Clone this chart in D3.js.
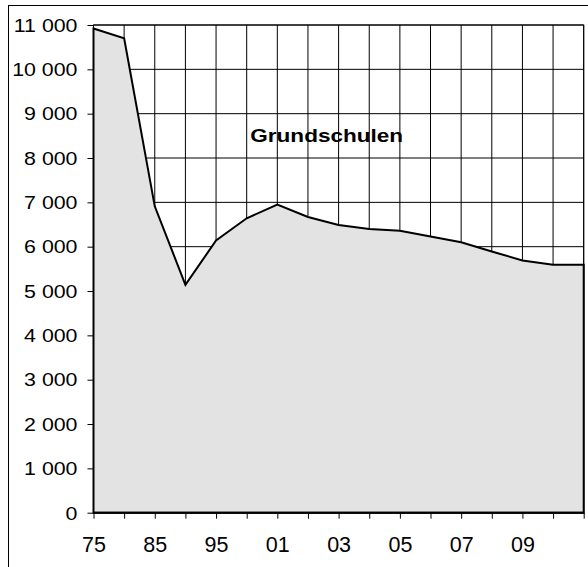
<!DOCTYPE html>
<html><head><meta charset="utf-8">
<script src="https://cdn.jsdelivr.net/npm/d3@7"></script>
<style>html,body{margin:0;padding:0;background:#fff;}svg{display:block;}</style>
</head><body>
<script>
const categories = ["75","80","85","90","95","00","01","02","03","04","05","06","07","08","09","10","11"];
const values = [10920, 10700, 6910, 5140, 6140, 6640, 6950, 6670, 6490, 6400, 6360, 6230, 6100, 5890, 5690, 5590, 5590];
const xTickLabels = ["75","85","95","01","03","05","07","09"];
const yTickValues = [0,1000,2000,3000,4000,5000,6000,7000,8000,9000,10000,11000];
const title = "Grundschulen";

const W = 588, H = 567;
const L = 93.5, R = 583.7, T = 25, B = 512.7;
const svg = d3.select("body").append("svg").attr("width", W).attr("height", H);
svg.append("rect").attr("width", W).attr("height", H).attr("fill", "#fff");

const x = d3.scalePoint().domain(categories).range([L, R]);
const y = d3.scaleLinear().domain([0, 11000]).range([B, T]);
const fmt = v => d3.format(",")(v).replace(/,/g, " ");

// outer chart frame
svg.append("rect").attr("x", 8.5).attr("y", 5.5).attr("width", 700).attr("height", 700)
  .attr("fill", "none").attr("stroke", "#000").attr("stroke-width", 1);

// gridlines
const g = svg.append("g");
g.selectAll("line.h").data(yTickValues.filter(v => v > 0)).join("line")
  .attr("x1", L).attr("x2", R).attr("y1", d => y(d)).attr("y2", d => y(d))
  .attr("stroke", "#000").attr("stroke-width", 1);
g.selectAll("line.v").data(categories).join("line")
  .attr("x1", d => x(d)).attr("x2", d => x(d)).attr("y1", T).attr("y2", B)
  .attr("stroke", "#000").attr("stroke-width", 1);

// area
const area = d3.area().x((d, i) => x(categories[i])).y0(y(0)).y1(d => y(d));
svg.append("path").datum(values).attr("d", area)
  .attr("fill", "#e3e3e3").attr("stroke", "#000").attr("stroke-width", 2)
  .attr("stroke-linejoin", "miter");

// plot border
svg.append("rect").attr("x", L).attr("y", T).attr("width", R - L).attr("height", B - T)
  .attr("fill", "none").attr("stroke", "#000").attr("stroke-width", 1);

// y axis
const yAxis = d3.axisLeft(y).tickValues(yTickValues).tickSize(6).tickPadding(0).tickFormat(fmt);
const ya = svg.append("g").attr("transform", `translate(${L},0)`).call(yAxis);
ya.select(".domain").remove();
ya.selectAll(".tick line").attr("stroke", "#000");
ya.selectAll(".tick text")
  .attr("x", 0).attr("dy", null)
  .attr("transform", "translate(-16,6.3) scale(1.22,1)")
  .attr("fill", "#000")
  .style("font-family", "Liberation Sans, Arial, sans-serif")
  .style("font-size", "17.5px");

// x axis
const xAxis = d3.axisBottom(x).tickValues(categories).tickSize(6).tickPadding(0)
  .tickFormat(d => xTickLabels.includes(d) ? d : "");
const xa = svg.append("g").attr("transform", `translate(0,${B})`).call(xAxis);
xa.select(".domain").remove();
xa.selectAll(".tick line").attr("stroke", "#000");
xa.selectAll(".tick text")
  .attr("y", 39).attr("dy", null)
  .attr("fill", "#000")
  .style("font-family", "Liberation Sans, Arial, sans-serif")
  .style("font-size", "21.5px");

// x axis line
svg.append("line").attr("x1", L).attr("x2", R).attr("y1", B).attr("y2", B)
  .attr("stroke", "#000").attr("stroke-width", 2);

// title
svg.append("text").attr("text-anchor", "middle")
  .attr("transform", "translate(326.7,142) scale(1.22,1)")
  .style("font-family", "Liberation Sans, Arial, sans-serif")
  .style("font-size", "18.5px").style("font-weight", "bold")
  .attr("fill", "#000").text(title);
</script>
</body></html>
